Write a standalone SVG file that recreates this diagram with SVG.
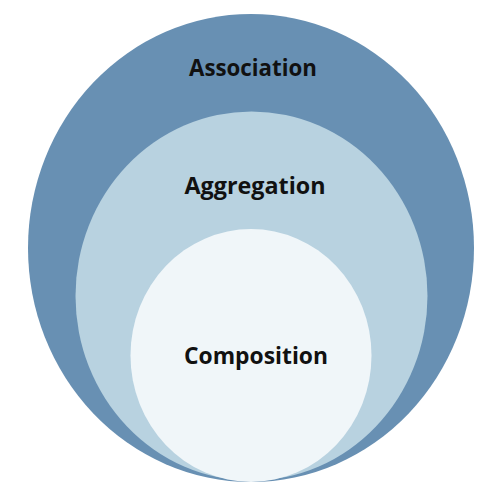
<svg xmlns="http://www.w3.org/2000/svg" width="501" height="500" viewBox="0 0 501 500">
<style>
.lbl{font-family:"Open Sans","Noto Sans","DejaVu Sans",sans-serif;font-weight:bold;font-size:23px;fill:#111;text-anchor:middle}
</style>
<rect width="501" height="500" fill="#ffffff"/>
<g id="association">
<ellipse cx="251" cy="248" rx="223" ry="234" fill="#6890b3"/>
<text class="lbl" x="253" y="76" textLength="128" lengthAdjust="spacingAndGlyphs">Association</text>
</g>
<g id="aggregation">
<ellipse cx="251.5" cy="296" rx="176" ry="184.5" fill="#b8d2e0"/>
<text class="lbl" x="255" y="194" textLength="141" lengthAdjust="spacingAndGlyphs">Aggregation</text>
</g>
<g id="composition">
<ellipse cx="251" cy="355.5" rx="120.5" ry="126.5" fill="#f0f6f9"/>
<text class="lbl" x="256" y="364" textLength="144" lengthAdjust="spacingAndGlyphs">Composition</text>
</g>
<g id="connectors"></g>
</svg>
